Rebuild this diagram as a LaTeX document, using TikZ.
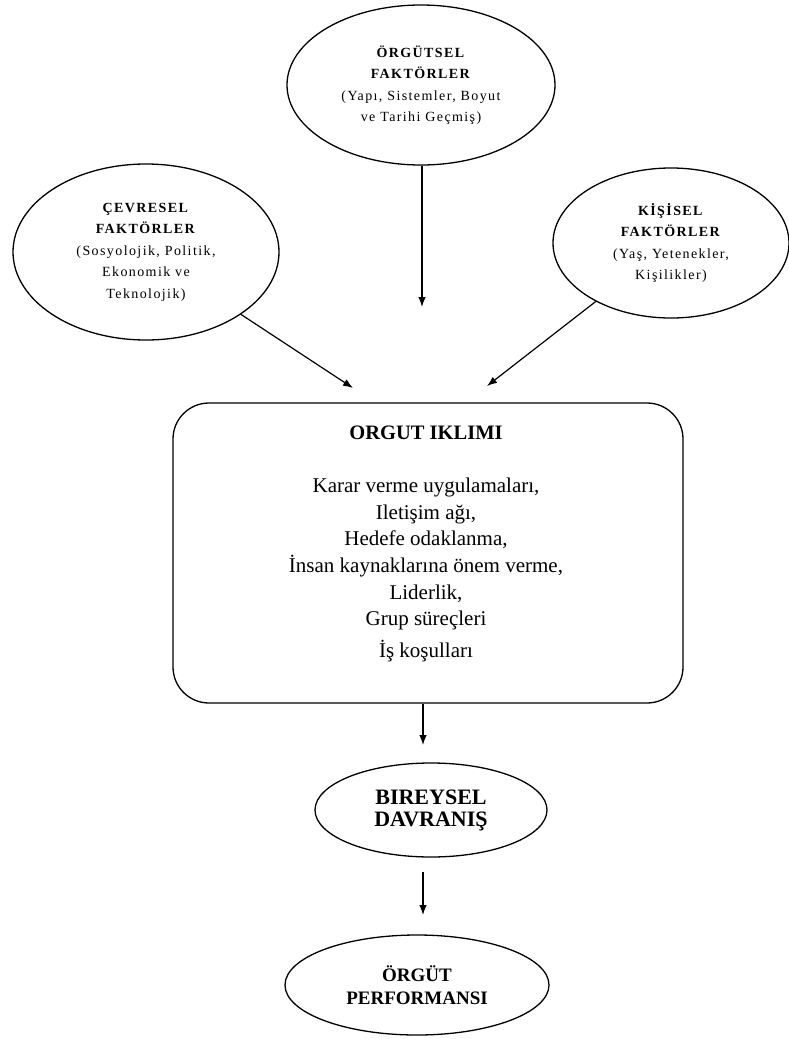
\documentclass[tikz,border=0pt]{standalone}
\usepackage{fontspec}
\setmainfont{Liberation Serif}
\newfontfamily\spaced[LetterSpace=10]{Liberation Serif}
\usetikzlibrary{shapes.geometric,arrows.meta}
\begin{document}
\begin{tikzpicture}[x=1pt,y=-1pt,
  factor/.style={ellipse,draw,line width=1.3pt,inner sep=0pt,align=center,
    font=\spaced\fontsize{14}{21.5}\selectfont},
  result/.style={ellipse,draw,line width=1.3pt,inner sep=0pt,align=center},
  climatebox/.style={draw,rounded corners=36pt,line width=1.3pt,
    minimum width=510pt,minimum height=300pt,inner sep=0pt},
  flow/.style={line width=1.2pt,-{Latex[length=10pt,width=7.5pt]}}]
\useasboundingbox (0,0) rectangle (789,1039);

% influencing factors
\node[factor,minimum width=268pt,minimum height=160pt] (org) at (421,85)
  {\textbf{ÖRGÜTSEL}\\\textbf{FAKTÖRLER}\\(Yapı, Sistemler, Boyut\\ve Tarihi Geçmiş)};
\node[factor,minimum width=266pt,minimum height=176pt] (env) at (146,252)
  {\textbf{ÇEVRESEL}\\\textbf{FAKTÖRLER}\\(Sosyolojik, Politik,\\Ekonomik ve\\Teknolojik)};
\node[factor,minimum width=236pt,minimum height=150pt] (pers) at (671,243)
  {\textbf{KİŞİSEL}\\\textbf{FAKTÖRLER}\\(Yaş, Yetenekler,\\Kişilikler)};

% organisational climate
\node[climatebox] (climate) at (428,553) {};
\node[font=\bfseries\fontsize{20.5}{24}\selectfont] (ctitle) at (426,433) {ORGUT IKLIMI};
\node[align=center,font=\fontsize{21}{26.7}\selectfont] (clist) at (426,570)
  {Karar verme uygulamaları,\\Iletişim ağı,\\Hedefe odaklanma,\\İnsan kaynaklarına önem verme,\\Liderlik,\\Grup süreçleri\\[5pt]İş koşulları};

% outcomes
\node[result,minimum width=232pt,minimum height=94pt,
  font=\bfseries\fontsize{22}{22}\selectfont] (behav) at (431,810)
  {BIREYSEL\\DAVRANIŞ};
\node[result,minimum width=264pt,minimum height=100pt,
  font=\bfseries\fontsize{19}{23}\selectfont] (perf) at (417,985)
  {ÖRGÜT\\PERFORMANSI};

% connectors
\coordinate (tipO) at (422,307);
\coordinate (tipE) at (353,388);
\coordinate (tipP) at (487,386);
\coordinate (tipC) at (423,745);
\coordinate (startB) at (423,872);
\coordinate (tipB) at (423,915);
\draw[flow] (org.south -| tipO) -- (tipO);
\draw[flow] (env) -- (tipE);
\draw[flow] (pers) -- (tipP);
\draw[flow] (climate.south -| tipC) -- (tipC);
\draw[flow] (startB) -- (tipB);
\end{tikzpicture}
\end{document}
